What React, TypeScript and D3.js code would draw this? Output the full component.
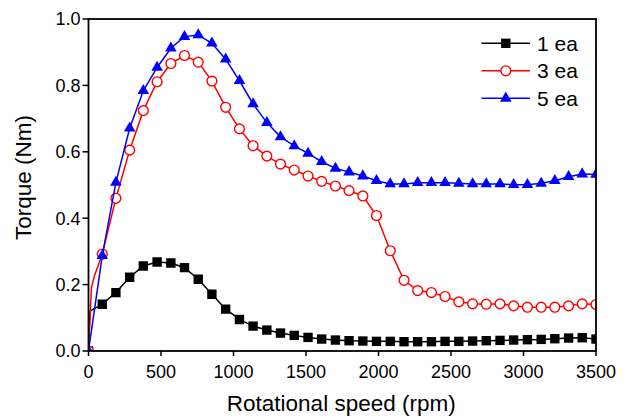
import * as d3 from 'd3';

// rotational speed (rpm), shared by all three series
const speeds = [
  0, 95, 189, 284, 378, 473, 568, 662, 757, 851, 946, 1041, 1135, 1230, 1324, 1419, 1514, 1608, 1703,
  1797, 1892, 1986, 2081, 2176, 2270, 2365, 2459, 2554, 2649, 2743, 2838, 2932, 3027, 3122, 3216,
  3311, 3405, 3500,
];

// torque (Nm)
const torque1 = [
  0, 0.141, 0.176, 0.222, 0.256, 0.268, 0.265, 0.251, 0.216, 0.171, 0.126, 0.095, 0.075, 0.063,
  0.054, 0.047, 0.041, 0.036, 0.033, 0.031, 0.03, 0.029, 0.029, 0.028, 0.028, 0.028, 0.029, 0.029,
  0.03, 0.031, 0.032, 0.033, 0.034, 0.035, 0.037, 0.039, 0.04, 0.036,
];
const torque3 = [
  0, 0.292, 0.46, 0.605, 0.724, 0.811, 0.866, 0.89, 0.87, 0.813, 0.734, 0.669, 0.618, 0.587, 0.563,
  0.545, 0.527, 0.511, 0.497, 0.483, 0.467, 0.408, 0.302, 0.213, 0.182, 0.176, 0.164, 0.148, 0.142,
  0.141, 0.142, 0.136, 0.132, 0.132, 0.132, 0.136, 0.142, 0.14,
];
const torque5 = [
  0, 0.287, 0.508, 0.671, 0.784, 0.854, 0.912, 0.947, 0.952, 0.927, 0.879, 0.814, 0.744, 0.688,
  0.645, 0.618, 0.595, 0.57, 0.55, 0.539, 0.527, 0.513, 0.503, 0.503, 0.507, 0.507, 0.507, 0.505,
  0.503, 0.503, 0.503, 0.501, 0.501, 0.505, 0.513, 0.525, 0.533, 0.532,
];

// unmarked start-up points right after 0 rpm
const rampSpeed1 = [10];
const rampTorque1 = [0.12];
const rampSpeed3 = [20, 40];
const rampTorque3 = [0.19, 0.225];

const xTicks = [0, 500, 1000, 1500, 2000, 2500, 3000, 3500];
const yTicks = [0, 0.2, 0.4, 0.6, 0.8, 1.0];

const seriesNames = ['1 ea', '3 ea', '5 ea'];

const W = 631;
const H = 419;
const margin = { left: 88.5, right: 35, top: 19, bottom: 68 };
const font = "'Liberation Sans', Arial, sans-serif";

type Pt = [number, number];

export default function App() {
  const x = d3.scaleLinear().domain([0, 3500]).range([margin.left, W - margin.right]);
  const y = d3.scaleLinear().domain([0, 1]).range([H - margin.bottom, margin.top]);
  const [x0, x1] = x.range();
  const [y0, y1] = y.range();

  const mk = (vals: number[], rs: number[] = [], rt: number[] = []): Pt[] => {
    const pts: Pt[] = speeds.map((s, i) => [s, vals[i]]);
    const ramp: Pt[] = rs.map((s, i) => [s, rt[i]]);
    return [pts[0], ...ramp, ...pts.slice(1)];
  };

  const series = [
    { name: seriesNames[0], color: '#000000', shape: 'square', line: mk(torque1, rampSpeed1, rampTorque1), marks: torque1 },
    { name: seriesNames[1], color: '#ff0000', shape: 'circle', line: mk(torque3, rampSpeed3, rampTorque3), marks: torque3 },
    { name: seriesNames[2], color: '#0000ff', shape: 'triangle', line: mk(torque5), marks: torque5 },
  ];

  const line = d3.line<Pt>().x(d => x(d[0])).y(d => y(d[1]));
  const sq = d3.symbol().type(d3.symbolSquare).size(88)();
  const tri = d3.symbol().type(d3.symbolTriangle).size(58)();

  const marker = (shape: string, color: string, cx: number, cy: number, key: any) => {
    if (shape === 'circle')
      return <circle key={key} cx={cx} cy={cy} r={4.9} fill="#fff" stroke={color} strokeWidth={1.4} />;
    return (
      <path key={key} d={shape === 'square' ? sq! : tri!} transform={`translate(${cx},${cy})`} fill={color} />
    );
  };

  return (
    <div style={{ position: 'fixed', left: 0, top: 0 }}>
      <svg width={W} height={H} style={{ display: 'block', background: '#fff' }} fontFamily={font}>
        <defs>
          <clipPath id="plot">
            <rect x={x0} y={y1} width={x1 - x0} height={y0 - y1} />
          </clipPath>
        </defs>

        <g clipPath="url(#plot)">
          {series.map(s => (
            <g key={s.name}>
              <path d={line(s.line)!} fill="none" stroke={s.color} strokeWidth={1.5} />
              {s.marks.map((v, i) => marker(s.shape, s.color, x(speeds[i]), y(v), i))}
            </g>
          ))}
        </g>

        {/* frame */}
        <rect x={x0} y={y1} width={x1 - x0} height={y0 - y1} fill="none" stroke="#000" strokeWidth={1.8} />

        {/* x axis ticks */}
        {xTicks.map(t => (
          <g key={t}>
            <line x1={x(t)} x2={x(t)} y1={y0} y2={y0 + 5} stroke="#000" strokeWidth={1.5} />
            <text x={x(t)} y={y0 + 26.5} textAnchor="middle" fontSize={18} fill="#000">
              {t}
            </text>
          </g>
        ))}

        {/* y axis ticks */}
        {yTicks.map(t => (
          <g key={t}>
            <line x1={x0 - 6} x2={x0} y1={y(t)} y2={y(t)} stroke="#000" strokeWidth={1.5} />
            <text x={x0 - 8} y={y(t)} dy="0.36em" textAnchor="end" fontSize={18} fill="#000">
              {d3.format('.1f')(t)}
            </text>
          </g>
        ))}

        <text x={(x0 + x1) / 2 - 1} y={411} textAnchor="middle" fontSize={22.5} fill="#000">
          Rotational speed (rpm)
        </text>
        <text transform={`translate(31,177.5) rotate(-90)`} textAnchor="middle" fontSize={22.5} fill="#000">
          Torque (Nm)
        </text>

        {/* legend */}
        {series.map((s, i) => {
          const ly = 43.3 + i * 27.5;
          return (
            <g key={s.name}>
              <line x1={481.5} x2={530} y1={ly} y2={ly} stroke={s.color} strokeWidth={1.5} />
              {marker(s.shape, s.color, 505.8, ly, 'm')}
              <text x={537} y={ly} dy="0.36em" fontSize={21} fill="#000">
                {s.name}
              </text>
            </g>
          );
        })}
      </svg>
    </div>
  );
}
